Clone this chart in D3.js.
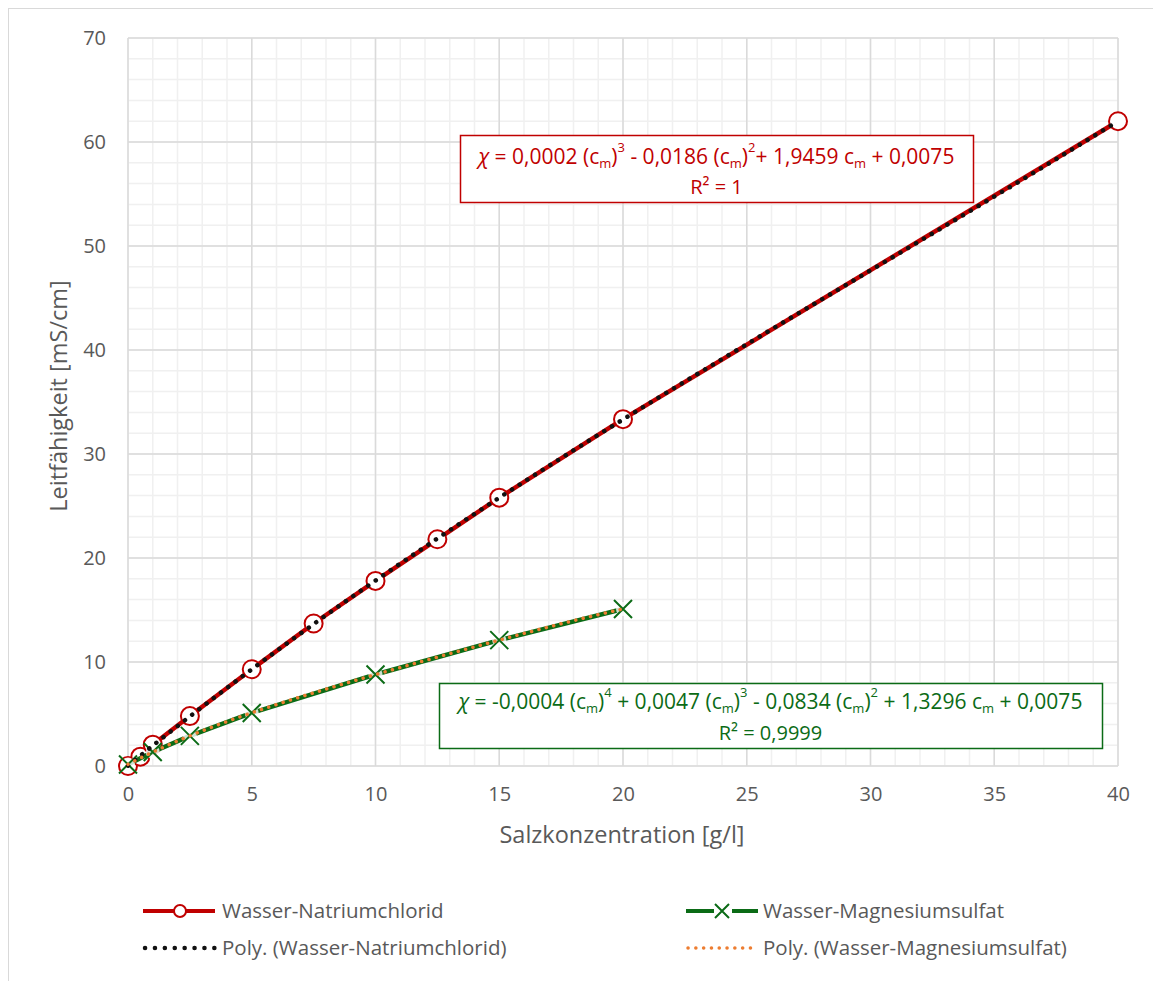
<!DOCTYPE html>
<html>
<head>
<meta charset="utf-8">
<script src="https://cdn.jsdelivr.net/npm/d3@7"></script>
<style>
  body { margin: 0; background: #fff; }
  svg { font-family: "Open Sans", "Noto Sans", sans-serif; }
</style>
</head>
<body>
<div id="chart"></div>
<script>
// data
const naclX = [0, 0.5, 1, 2.5, 5, 7.5, 10, 12.5, 15, 20, 40];
const naclY = [0, 0.9, 2.05, 4.8, 9.3, 13.7, 17.8, 21.8, 25.8, 33.35, 62.0];
const mgX = [0, 1, 2.5, 5, 10, 15, 20];
const mgY = [0.15, 1.35, 2.9, 5.1, 8.8, 12.1, 15.1];
const xTicks = [0, 5, 10, 15, 20, 25, 30, 35, 40];
const yTicks = [0, 10, 20, 30, 40, 50, 60, 70];
const seriesNames = ["Wasser-Natriumchlorid", "Wasser-Magnesiumsulfat"];

const width = 1153, height = 981;
const red = "#c00000", green = "#0b6b16", orange = "#ed7d31", gray = "#595959";

const svg = d3.select("#chart").append("svg")
  .attr("width", width).attr("height", height);

// chart frame (right and bottom run off the picture)
svg.append("rect").attr("x", 8.5).attr("y", 8.5)
  .attr("width", 1170).attr("height", 1000)
  .attr("fill", "#fff").attr("stroke", "#d9d9d9");

const x = d3.scaleLinear().domain([0, 40]).range([128, 1118]);
const y = d3.scaleLinear().domain([0, 70]).range([766, 38]);

// grid
const g = svg.append("g");
g.selectAll(".vminor").data(d3.range(0, 41, 1)).join("line")
  .attr("x1", d => x(d)).attr("x2", d => x(d))
  .attr("y1", y(0)).attr("y2", y(70))
  .attr("stroke", "#f0f0f0").attr("stroke-width", 1.5);
g.selectAll(".hminor").data(d3.range(0, 71, 2)).join("line")
  .attr("y1", d => y(d)).attr("y2", d => y(d))
  .attr("x1", x(0)).attr("x2", x(40))
  .attr("stroke", "#f0f0f0").attr("stroke-width", 1.5);
g.selectAll(".vmajor").data(xTicks).join("line")
  .attr("x1", d => x(d)).attr("x2", d => x(d))
  .attr("y1", y(0)).attr("y2", y(70))
  .attr("stroke", "#dadada").attr("stroke-width", 1.5);
g.selectAll(".hmajor").data(yTicks).join("line")
  .attr("y1", d => y(d)).attr("y2", d => y(d))
  .attr("x1", x(0)).attr("x2", x(40))
  .attr("stroke", "#dadada").attr("stroke-width", 1.5);

// axes (labels only)
const xAxis = svg.append("g").attr("transform", `translate(0,${y(0)})`)
  .call(d3.axisBottom(x).tickValues(xTicks).tickSize(0).tickPadding(21));
const yAxis = svg.append("g").attr("transform", `translate(${x(0)},0)`)
  .call(d3.axisLeft(y).tickValues(yTicks).tickSize(0).tickPadding(22));
[xAxis, yAxis].forEach(a => {
  a.select(".domain").remove();
  a.selectAll("text").attr("fill", gray).attr("font-size", 20)
    .attr("font-family", "'Open Sans', sans-serif");
});

svg.append("text").attr("x", 622).attr("y", 843).attr("text-anchor", "middle")
  .attr("fill", gray).attr("font-size", 23.5).text("Salzkonzentration [g/l]");
svg.append("text").attr("transform", "translate(67,396) rotate(-90)")
  .attr("text-anchor", "middle").attr("fill", gray).attr("font-size", 23.5)
  .text("Leitfähigkeit [mS/cm]");

// polynomial least-squares fit (as the spreadsheet trendline does)
function polyfit(xs, ys, deg) {
  const n = deg + 1;
  const A = Array.from({length: n}, () => new Array(n + 1).fill(0));
  for (let i = 0; i < n; i++) {
    for (let j = 0; j < n; j++) A[i][j] = d3.sum(xs, v => Math.pow(v, i + j));
    A[i][n] = d3.sum(xs, (v, k) => ys[k] * Math.pow(v, i));
  }
  for (let c = 0; c < n; c++) {
    let p = c;
    for (let r = c + 1; r < n; r++) if (Math.abs(A[r][c]) > Math.abs(A[p][c])) p = r;
    [A[c], A[p]] = [A[p], A[c]];
    for (let r = 0; r < n; r++) {
      if (r === c) continue;
      const f = A[r][c] / A[c][c];
      for (let k = c; k <= n; k++) A[r][k] -= f * A[c][k];
    }
  }
  const coef = A.map((row, i) => row[n] / row[i]);
  return v => coef.reduce((s, c, i) => s + c * Math.pow(v, i), 0);
}

const line = d3.line().x(d => x(d[0])).y(d => y(d[1]));
const nacl = naclX.map((v, i) => [v, naclY[i]]);
const mg = mgX.map((v, i) => [v, mgY[i]]);

// NaCl series
svg.append("path").datum(nacl).attr("d", line)
  .attr("fill", "none").attr("stroke", red).attr("stroke-width", 4.5)
  .attr("stroke-linejoin", "round");
svg.selectAll(".cm").data(nacl).join("circle")
  .attr("cx", d => x(d[0])).attr("cy", d => y(d[1])).attr("r", 9)
  .attr("fill", "#fff").attr("stroke", red).attr("stroke-width", 2);

// MgSO4 series
svg.append("path").datum(mg).attr("d", line)
  .attr("fill", "none").attr("stroke", green).attr("stroke-width", 4.5)
  .attr("stroke-linejoin", "round");
const xm = svg.selectAll(".xm").data(mg).join("g")
  .attr("transform", d => `translate(${x(d[0])},${y(d[1])})`);
xm.append("circle").attr("r", 7).attr("fill", "#fff").attr("fill-opacity", 0.8);
xm.append("path").attr("d", "M-9,-9L9,9M-9,9L9,-9")
  .attr("stroke", green).attr("stroke-width", 2).attr("fill", "none");

// trendlines
const fNacl = polyfit(naclX, naclY, 3);
const fMg = polyfit(mgX, mgY, 4);
const tN = d3.range(0, 40.001, 0.25).map(v => [v, fNacl(v)]);
const tM = d3.range(0, 20.001, 0.25).map(v => [v, fMg(v)]);
svg.append("path").datum(tN).attr("d", line).attr("fill", "none")
  .attr("stroke", "#111").attr("stroke-width", 4.5)
  .attr("stroke-linecap", "round").attr("stroke-dasharray", "0.1 9");
svg.append("path").datum(tM).attr("d", line).attr("fill", "none")
  .attr("stroke", orange).attr("stroke-width", 3.5)
  .attr("stroke-linecap", "round").attr("stroke-dasharray", "0.1 7.5");

// equation boxes
function eqBox(bx, by, bw, bh, color, parts, r2, l1, l2) {
  const b = svg.append("g");
  b.append("rect").attr("x", bx + 0.5).attr("y", by + 0.5)
    .attr("width", bw).attr("height", bh)
    .attr("fill", "#fff").attr("stroke", color).attr("stroke-width", 1.5);
  const t = b.append("text").attr("x", bx + bw / 2).attr("y", by + l1)
    .attr("text-anchor", "middle").attr("fill", color).attr("font-size", 21);
  parts.forEach(p => {
    const s = t.append("tspan").text(p[0]);
    if (p[1] === "sub") s.attr("font-size", 13).attr("dy", 4);
    if (p[1] === "sup") s.attr("font-size", 13).attr("dy", -12);
    if (p[1] === "it") s.attr("font-style", "italic");
    if (p[2]) s.attr("dy", p[2]);
  });
  b.append("text").attr("x", bx + bw / 2).attr("y", by + l2)
    .attr("text-anchor", "middle").attr("fill", color).attr("font-size", 20)
    .text(r2);
}

eqBox(460, 135, 513, 67, red, [
  ["χ", "it"], [" = 0,0002 (c"], ["m", "sub"], [")", null, -4], ["3", "sup"],
  [" - 0,0186 (c", null, 12], ["m", "sub"], [")", null, -4], ["2", "sup"],
  ["+ 1,9459 c", null, 12], ["m", "sub"], [" + 0,0075", null, -4]
], "R² = 1", 29, 59);

eqBox(439, 683, 663, 65, green, [
  ["χ", "it"], [" = -0,0004 (c"], ["m", "sub"], [")", null, -4], ["4", "sup"],
  [" + 0,0047 (c", null, 12], ["m", "sub"], [")", null, -4], ["3", "sup"],
  [" - 0,0834 (c", null, 12], ["m", "sub"], [")", null, -4], ["2", "sup"],
  [" + 1,3296 c", null, 12], ["m", "sub"], [" + 0,0075", null, -4]
], "R² = 0,9999", 26, 57);

// legend
const leg = svg.append("g").attr("font-size", 20.5).attr("fill", gray);
const legendItems = [
  {x: 143, y: 911, label: seriesNames[0], kind: "circle"},
  {x: 686, y: 911, label: seriesNames[1], kind: "x"},
  {x: 143, y: 948, label: "Poly. (" + seriesNames[0] + ")", kind: "black"},
  {x: 686, y: 948, label: "Poly. (" + seriesNames[1] + ")", kind: "orange"}
];
legendItems.forEach(it => {
  const gI = leg.append("g").attr("transform", `translate(${it.x},${it.y})`);
  if (it.kind === "circle") {
    gI.append("line").attr("x1", 0).attr("x2", 72).attr("stroke", red).attr("stroke-width", 4);
    gI.append("circle").attr("cx", 37).attr("r", 6).attr("fill", "#fff")
      .attr("stroke", red).attr("stroke-width", 2);
  } else if (it.kind === "x") {
    gI.append("line").attr("x1", 0).attr("x2", 28).attr("stroke", green).attr("stroke-width", 4);
    gI.append("line").attr("x1", 46).attr("x2", 72).attr("stroke", green).attr("stroke-width", 4);
    gI.append("path").attr("d", "M29,-7L43,7M29,7L43,-7").attr("stroke", green).attr("stroke-width", 2);
  } else {
    gI.append("line").attr("x1", 2).attr("x2", 72)
      .attr("stroke", it.kind === "black" ? "#111" : orange)
      .attr("stroke-width", it.kind === "black" ? 4.5 : 3.5)
      .attr("stroke-linecap", "round")
      .attr("stroke-dasharray", it.kind === "black" ? "0.1 9.8" : "0.1 7.7");
  }
  gI.append("text").attr("x", it.kind === "x" || it.kind === "orange" ? 77 : 79)
    .attr("dy", "0.35em").attr("fill", gray).text(it.label);
});
</script>
</body>
</html>
